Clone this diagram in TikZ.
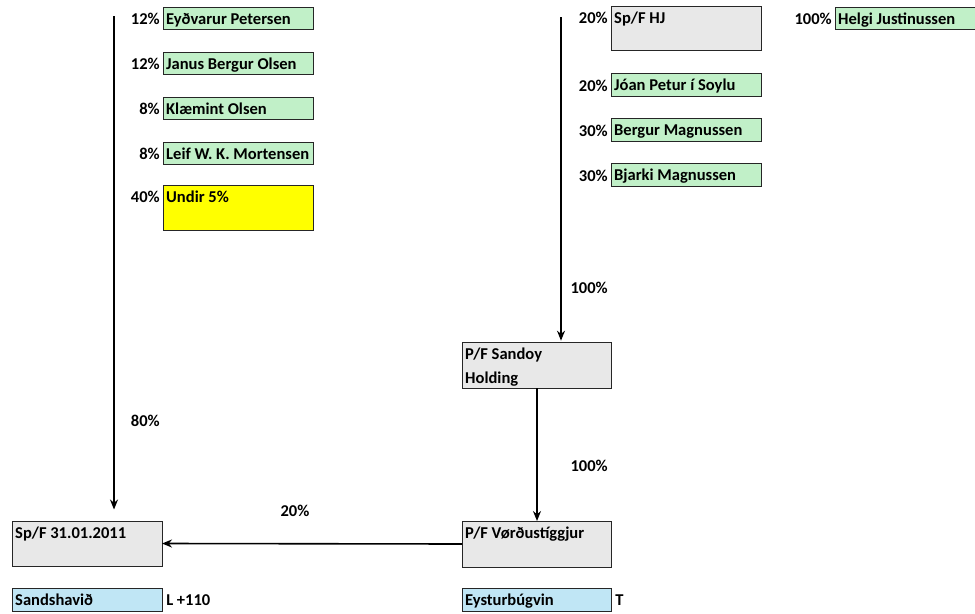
\documentclass[tikz,border=0pt]{standalone}
\usepackage{fontspec}
\setmainfont{Carlito}
\usetikzlibrary{arrows.meta}
\definecolor{gfill}{HTML}{C1F0C8}
\definecolor{grfill}{HTML}{E8E8E8}
\definecolor{bfill}{HTML}{C0E6F5}
\definecolor{yfill}{HTML}{FFFF00}
\newcommand\bxt[3]{\parbox[t][#2][t]{#1}{\raggedright\leftskip=2.4pt\setlength\baselineskip{18pt}\rule{0pt}{13.2pt}#3\par}}
\tikzset{
  x=0.75pt, y=-0.75pt,
  every node/.style={font=\bfseries\fontsize{12.4}{18}\selectfont},
  box/.style={draw=black!85, line width=0.6pt, anchor=north west, inner sep=0pt, outer sep=0pt},
  pct/.style={anchor=base east, inner sep=0pt},
  lbl/.style={anchor=base west, inner sep=0pt},
  conn/.style={line width=1.2pt, -{Stealth[length=7.5pt,width=6pt]}}
}
\begin{document}
\begin{tikzpicture}
\useasboundingbox (0,0) rectangle (975,614);
\clip (0,0) rectangle (975,614);
% left column owners
\node[box, fill=gfill] (eyd) at (163,7) {\bxt{112.5pt}{16.5pt}{Eyðvarur Petersen}};
\node[box, fill=gfill] (jan) at (163,52) {\bxt{112.5pt}{16.5pt}{Janus Bergur Olsen}};
\node[box, fill=gfill] (kla) at (163,97) {\bxt{112.5pt}{16.5pt}{Klæmint Olsen}};
\node[box, fill=gfill] (lei) at (163,142) {\bxt{112.5pt}{16.5pt}{Leif W. K. Mortensen}};
\node[box, fill=yfill] (und) at (163,185) {\bxt{112.5pt}{34pt}{Undir 5\%}};
\node[pct] (p1) at (160,24) {12\%};
\node[pct] (p2) at (160,69) {12\%};
\node[pct] (p3) at (160,114) {8\%};
\node[pct] (p4) at (160,159) {8\%};
\node[pct] (p5) at (160,202) {40\%};
% right column owners
\node[box, fill=grfill] (hj) at (611,6) {\bxt{112.5pt}{33pt}{Sp/F HJ}};
\node[box, fill=gfill] (hel) at (835,7) {\bxt{112.5pt}{16.5pt}{Helgi Justinussen}};
\node[box, fill=gfill] (joa) at (611,73) {\bxt{112.5pt}{17.25pt}{Jóan Petur í Soylu}};
\node[box, fill=gfill] (ber) at (611,118) {\bxt{112.5pt}{17.25pt}{Bergur Magnussen}};
\node[box, fill=gfill] (bja) at (611,163) {\bxt{112.5pt}{17.25pt}{Bjarki Magnussen}};
\node[pct] (q1) at (608,23) {20\%};
\node[pct] (q0) at (832,24) {100\%};
\node[pct] (q2) at (608,91) {20\%};
\node[pct] (q3) at (608,136) {30\%};
\node[pct] (q4) at (608,181) {30\%};
% companies
\node[box, fill=grfill] (san) at (462,342) {\bxt{111.75pt}{34.5pt}{P/F Sandoy\\Holding}};
\node[box, fill=grfill] (vor) at (462,521) {\bxt{111.75pt}{34.5pt}{P/F Vørðustíggjur}};
\node[box, fill=grfill] (spf) at (12,521) {\bxt{112.5pt}{33.75pt}{Sp/F 31.01.2011}};
\node[box, fill=bfill] (sha) at (12,588) {\bxt{112.5pt}{17.25pt}{Sandshavið}};
\node[box, fill=bfill] (eys) at (462,588) {\bxt{111.75pt}{17.25pt}{Eysturbúgvin}};
\node[lbl] (l110) at (166,605) {L +110};
\node[lbl] (lt) at (615,605) {T};
% connector labels
\node[pct] (c80) at (160,426) {80\%};
\node[pct] (c100a) at (608,293) {100\%};
\node[pct] (c100b) at (608,471) {100\%};
\node[anchor=base, inner sep=0pt] (c20) at (295,516) {20\%};
% connectors
\coordinate (ltop) at (114,16);
\coordinate (rtop) at (561,17);
\draw[conn, shorten >=11.5pt*0.75] (ltop) -- (ltop |- spf.north);
\draw[conn, shorten >=1pt] (rtop) -- (rtop |- san.north);
\draw[conn] ([xshift=0.5*0.75pt]san.south) -- ([xshift=0.5*0.75pt]vor.north);
\draw[conn] (vor.west) -- (spf.east);
\end{tikzpicture}
\end{document}
